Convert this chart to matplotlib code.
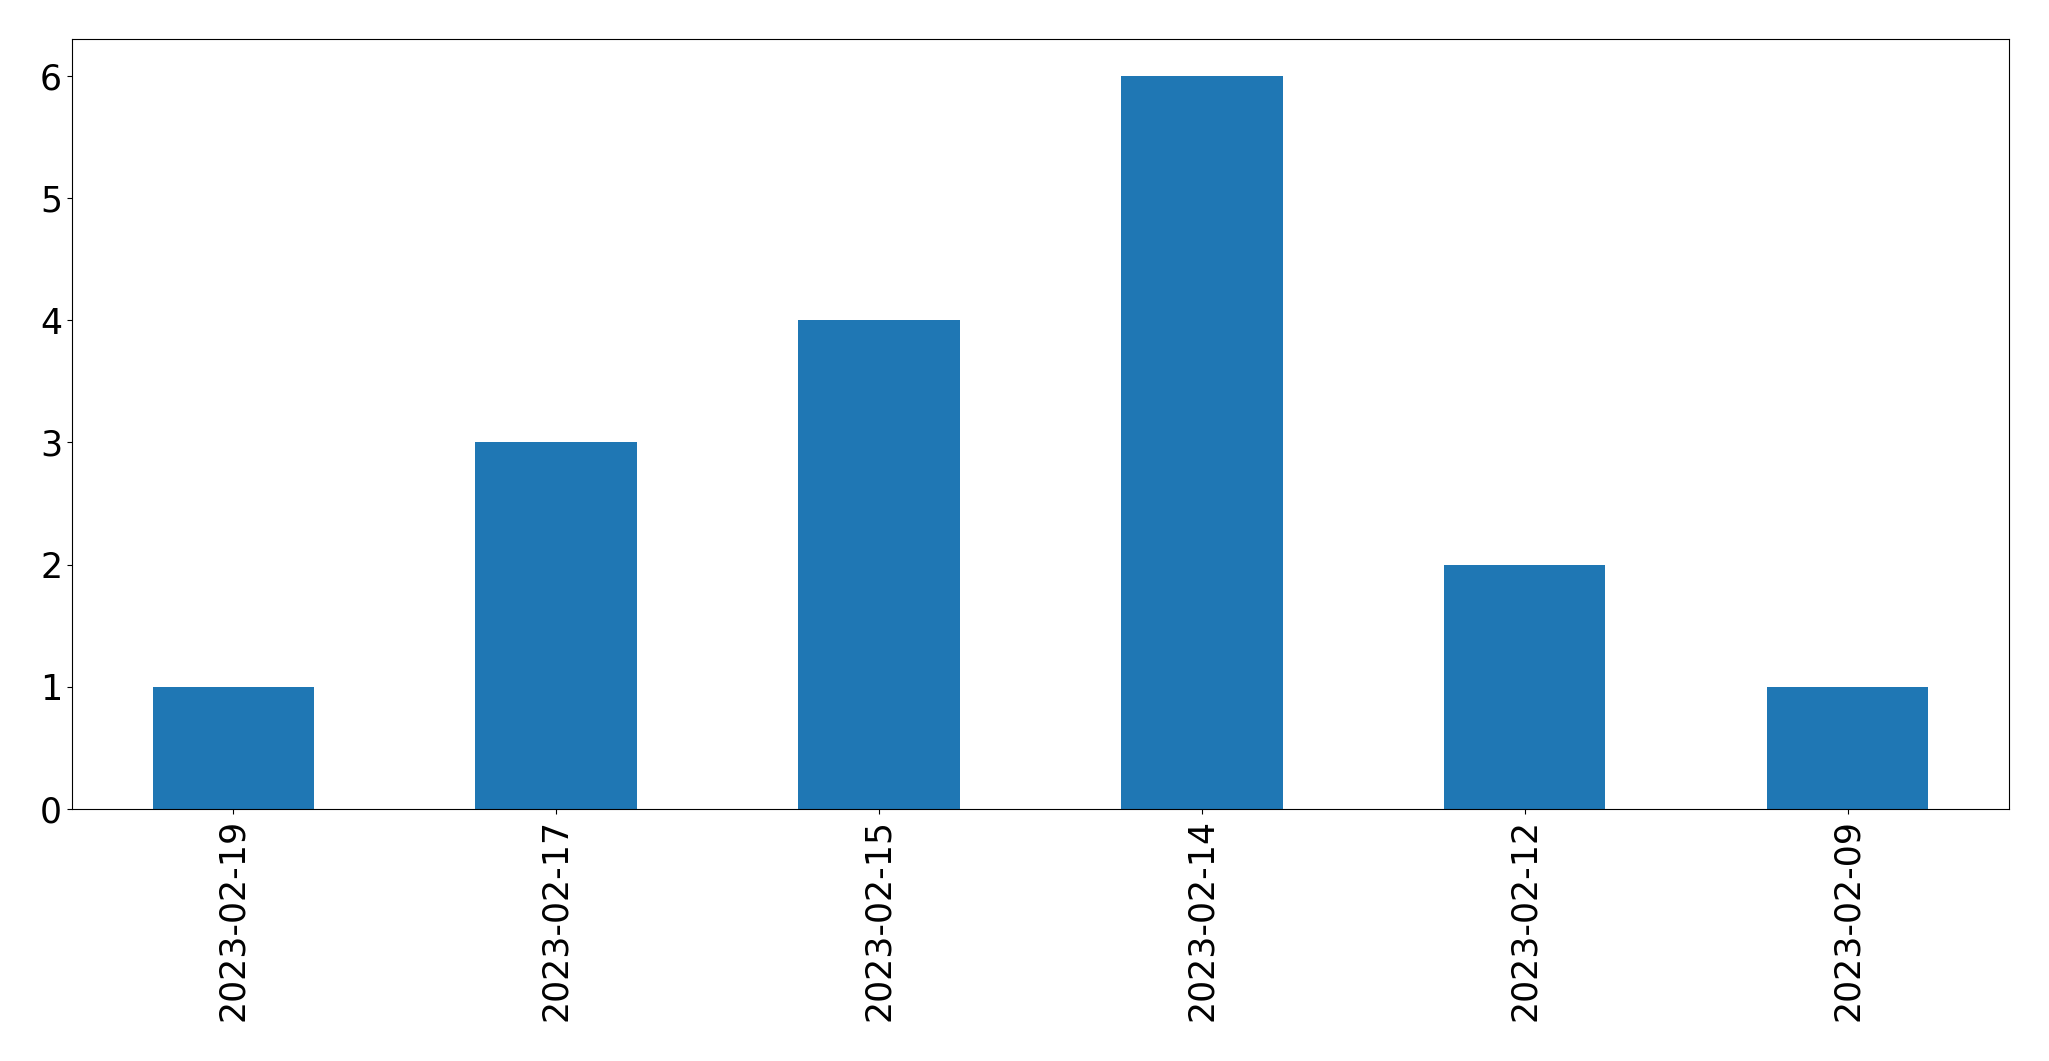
import matplotlib
matplotlib.use("Agg")
import matplotlib.pyplot as plt
import numpy as np

# Datos
fechas = ["2023-02-19", "2023-02-17", "2023-02-15", "2023-02-14", "2023-02-12", "2023-02-09"]
conteos = [1, 3, 4, 6, 2, 1]

fig = plt.figure(figsize=(20.49, 10.61), dpi=100)
ax = fig.add_axes([0.0351, 0.2375, 0.9454, 0.7255])

x = np.arange(len(fechas))
ax.bar(x, conteos, width=0.5, color="#1f77b4")
ax.set_xlim(-0.5, len(fechas) - 0.5)
ax.set_ylim(0, 6.3)
ax.set_xticks(x)
ax.set_xticklabels(fechas, rotation=90)
ax.tick_params(labelsize=25)

fig.savefig("out.png", dpi=100)
